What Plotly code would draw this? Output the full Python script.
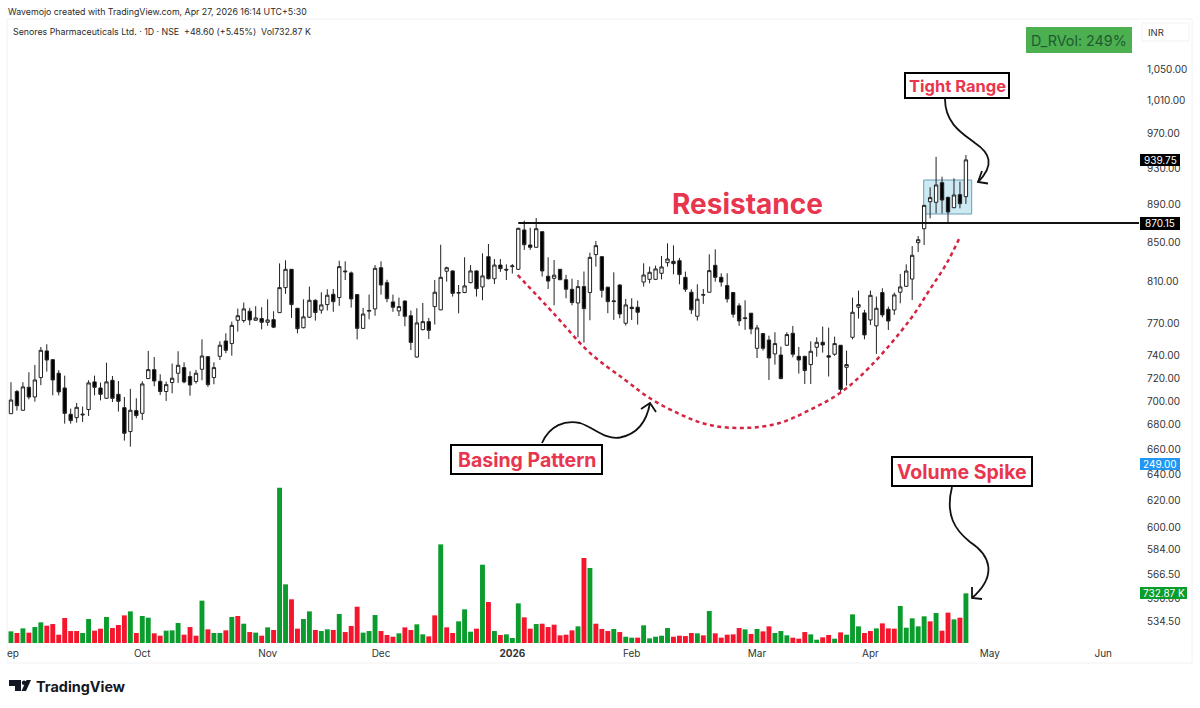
import plotly.graph_objects as go

W, H = 1200, 708

opens = [
    706, 689.3, 708.2, 692.2, 711.9, 703.5, 720.4, 744.2, 736.3, 724.2,
    711.3, 688.8, 686.0, 688.2, 692.8, 716.6, 711.3, 702.4, 718.0, 705.8,
    694.4, 674.4, 691.9, 689.6, 719.5, 727.4, 717.1, 708.2, 716.0, 724.2,
    729.2, 721.3, 716.9, 727.7, 739.0, 720.4, 739.3, 753.3, 750.9, 772.6,
    772.3, 781.2, 772.6, 774.2, 770.7, 773.2, 779.8, 804.0, 822.2, 784.0,
    765.6, 775.5, 791.7, 782.2, 787.5, 797.5, 794.3, 819.6, 818.6, 797.2,
    765.0, 781.2, 783.4, 823.8, 808.9, 790.1, 781.5, 791.0, 776.9, 738.7,
    763.8, 771.3, 785.6, 782.5, 820.3, 820.6, 798.6, 799.2, 808.9, 820.6,
    804.7, 835.0, 812.8, 826.5, 822.2, 824.9, 822.2, 862.7, 847.0, 844.6,
    860.9, 815.3, 813.2, 822.2, 811.8, 802.4, 789.1, 805.0, 799.2, 837.1,
    835.0, 804.4, 790.4, 806.6, 769.8, 785.0, 785.0, 809.5, 812.2, 812.2,
    818.2, 828.9, 830.3, 830.9, 814.2, 799.5, 776.4, 796.6, 799.5, 826.2,
    814.2, 806.0, 799.2, 786.3, 774.2, 779.3, 746.6, 760.1, 754.2, 741.5,
    740.5, 749.4, 760.4, 739.3, 739.3, 731.9, 747.5, 752.1, 739.8, 741.2,
    749.4, 729.5, 756.7, 785.0, 779.6, 772.9, 767.3, 799.2, 783.0, 782.4,
    799.5, 805.3, 812.5, 849.4, 864.0, 893.0, 892.3, 914.0, 897.7, 886.5,
    900.7, 898.5,
]
highs = [
    712, 716.3, 709.6, 716.3, 725.1, 731.6, 747.8, 750.3, 736.6, 726.9,
    722.1, 693.6, 698.4, 695.3, 718.0, 722.1, 716.0, 733.6, 721.8, 717.4,
    703.5, 710.5, 702.4, 717.1, 744.2, 738.7, 723.3, 716.9, 732.8, 743.9,
    733.9, 726.0, 727.2, 754.8, 739.6, 733.9, 753.0, 760.4, 771.3, 783.7,
    789.5, 784.4, 786.0, 785.0, 792.6, 781.2, 828.2, 831.3, 822.2, 784.0,
    792.6, 805.0, 792.6, 799.5, 802.4, 802.7, 830.9, 830.3, 820.0, 797.2,
    784.4, 797.2, 826.5, 830.3, 811.8, 797.2, 794.3, 791.4, 781.9, 784.0,
    789.1, 774.8, 811.5, 847.3, 824.9, 821.0, 806.6, 834.4, 826.5, 821.0,
    838.4, 848.0, 832.6, 832.6, 827.2, 827.5, 865.0, 872.5, 865.0, 875.4,
    860.9, 834.4, 831.6, 822.2, 816.6, 812.8, 811.5, 820.0, 839.1, 851.1,
    835.7, 805.0, 819.2, 807.3, 793.0, 793.6, 791.4, 828.3, 824.9, 825.9,
    835.7, 848.7, 846.6, 833.7, 819.9, 802.4, 807.3, 802.7, 837.4, 842.5,
    818.2, 818.2, 799.5, 788.8, 791.7, 779.3, 768.2, 760.4, 758.2, 761.4,
    748.1, 761.4, 767.3, 747.8, 739.8, 753.0, 756.7, 766.7, 765.7, 757.3,
    749.4, 744.5, 794.3, 801.1, 782.5, 801.1, 795.3, 803.4, 785.6, 799.2,
    817.5, 827.2, 845.9, 856.3, 889.4, 908.8, 943.3, 920.7, 898.5, 918.8,
    915.1, 945.3,
]
lows = [
    694, 689.0, 691.9, 691.9, 701.5, 699.5, 713.7, 725.7, 704.9, 704.9,
    681.0, 681.0, 681.8, 682.4, 687.4, 704.9, 700.6, 702.1, 699.2, 691.1,
    667.0, 662.1, 685.4, 684.0, 719.2, 712.8, 705.2, 700.1, 706.7, 715.7,
    715.4, 704.6, 715.1, 718.0, 712.2, 714.5, 736.0, 742.1, 739.9, 762.0,
    770.4, 768.0, 772.3, 764.1, 767.4, 765.2, 779.5, 797.9, 774.8, 760.4,
    765.0, 774.8, 772.3, 778.8, 781.9, 780.6, 786.3, 811.5, 784.7, 754.8,
    764.4, 773.5, 776.9, 797.2, 789.8, 780.6, 776.6, 767.0, 745.0, 738.1,
    763.2, 755.1, 768.6, 782.2, 809.9, 795.3, 779.2, 798.6, 808.3, 795.3,
    791.7, 812.2, 807.6, 819.6, 811.5, 818.0, 821.5, 841.9, 841.9, 844.2,
    815.0, 802.7, 786.9, 811.5, 793.6, 786.9, 756.7, 751.8, 772.6, 824.9,
    794.3, 779.3, 772.9, 774.5, 767.6, 772.9, 768.5, 805.0, 808.3, 811.5,
    812.2, 824.9, 817.2, 807.3, 799.8, 778.6, 772.3, 788.2, 799.2, 809.9,
    805.0, 789.5, 775.1, 767.3, 763.6, 759.5, 737.8, 744.5, 718.3, 731.9,
    718.9, 748.7, 738.4, 723.9, 714.8, 714.8, 739.0, 742.7, 721.3, 739.8,
    706.9, 713.4, 754.8, 774.2, 754.8, 768.2, 741.5, 775.4, 763.5, 777.7,
    788.8, 805.0, 792.0, 839.8, 847.0, 875.0, 880.4, 880.4, 869.7, 885.8,
    885.8, 890.5,
]
closes = [
    698, 700.9, 696.1, 712.2, 703.5, 718.3, 744.8, 736.0, 718.3, 707.9,
    689.6, 683.5, 694.7, 688.8, 715.7, 711.9, 705.8, 716.6, 702.4, 699.8,
    673.0, 692.2, 687.7, 714.8, 727.4, 717.4, 708.2, 714.2, 719.8, 731.3,
    716.6, 713.9, 724.2, 739.6, 714.2, 729.2, 749.4, 744.8, 767.8, 776.9,
    783.4, 772.9, 774.8, 770.7, 772.9, 766.1, 804.0, 822.2, 787.5, 764.7,
    775.8, 791.7, 779.9, 787.2, 796.6, 790.4, 824.9, 820.3, 793.0, 765.0,
    778.5, 781.9, 823.2, 806.6, 793.3, 785.0, 785.6, 776.3, 752.0, 770.1,
    771.3, 763.2, 799.5, 814.2, 823.8, 798.4, 799.2, 805.7, 820.6, 803.0,
    815.6, 812.8, 826.5, 822.9, 821.5, 825.6, 864.4, 847.3, 844.6, 864.0,
    820.6, 810.5, 816.3, 811.8, 802.4, 789.5, 805.0, 783.7, 834.3, 846.3,
    801.4, 790.4, 791.0, 778.6, 787.2, 783.7, 780.2, 816.5, 819.2, 822.6,
    824.6, 832.6, 827.9, 816.9, 802.4, 782.5, 792.7, 797.2, 820.9, 814.2,
    809.5, 793.0, 778.3, 772.0, 774.8, 764.5, 765.4, 746.6, 737.8, 750.9,
    719.5, 759.2, 741.2, 736.0, 726.6, 743.9, 752.1, 749.7, 738.6, 750.9,
    710.1, 731.9, 780.2, 787.5, 758.9, 796.5, 784.0, 777.7, 771.9, 796.9,
    804.7, 820.5, 836.4, 852.5, 889.0, 897.4, 911.4, 894.8, 881.8, 900.3,
    890.8, 939.75,
]

# volume in thousands of shares
volumes = [
    271, 172, 148, 216, 153, 236, 305, 256, 280, 123,
    369, 177, 177, 148, 354, 182, 212, 384, 221, 266,
    408, 467, 148, 399, 374, 143, 108, 182, 187, 295,
    123, 236, 108, 625, 202, 148, 148, 187, 384, 399,
    285, 162, 153, 108, 231, 192, 2293, 866, 645, 212,
    354, 467, 192, 177, 202, 192, 428, 162, 251, 536,
    153, 177, 413, 177, 118, 93, 143, 231, 192, 276,
    128, 98, 408, 1456, 231, 148, 320, 497, 167, 212,
    1156, 605, 177, 118, 128, 74, 585, 379, 212, 280,
    285, 236, 271, 113, 123, 187, 246, 1255, 1107, 285,
    207, 177, 207, 162, 93, 79, 79, 261, 69, 93,
    108, 221, 93, 108, 103, 148, 143, 113, 472, 143,
    79, 123, 128, 221, 202, 133, 207, 172, 246, 148,
    177, 113, 79, 64, 162, 128, 49, 84, 118, 64,
    157, 123, 423, 246, 148, 177, 216, 290, 216, 212,
    546, 226, 364, 246, 394, 320, 443, 182, 448, 349,
    374, 733,
]
# 1 = day closed up (green volume), 0 = down (red volume)
volume_up = [
    0, 1, 0, 1, 0, 1, 1, 0, 0, 0,
    0, 0, 0, 1, 1, 0, 0, 1, 0, 0,
    0, 1, 0, 1, 1, 0, 0, 1, 1, 1,
    0, 0, 0, 1, 0, 1, 1, 0, 1, 0,
    1, 0, 1, 0, 1, 0, 1, 1, 0, 0,
    1, 1, 0, 1, 1, 0, 1, 0, 0, 0,
    1, 1, 1, 0, 0, 0, 1, 0, 0, 1,
    1, 0, 0, 1, 0, 0, 1, 1, 1, 0,
    1, 0, 1, 0, 1, 1, 1, 0, 0, 1,
    0, 0, 0, 0, 0, 0, 1, 0, 1, 0,
    0, 0, 1, 0, 1, 1, 0, 1, 1, 1,
    1, 1, 0, 0, 0, 0, 1, 0, 1, 0,
    0, 0, 0, 0, 1, 0, 1, 0, 0, 1,
    1, 1, 0, 0, 0, 1, 1, 0, 0, 1,
    0, 1, 1, 1, 0, 0, 1, 0, 0, 0,
    1, 1, 1, 1, 1, 0, 1, 0, 0, 1,
    0, 1,
]

month_bars = [0.8, 23, 44, 63, 85, 105, 126, 145, 165, 184]
month_labels = ["Sep", "Oct", "Nov", "Dec", "<b>2026</b>", "Feb", "Mar", "Apr", "May", "Jun"]

price_ticks = [1050, 1010, 970, 930, 890, 850, 810, 770, 740, 720, 700, 680, 660,
               640, 620, 600, 584, 566.5, 550, 534.5]
price_labels = ["1,050.00", "1,010.00", "970.00", "930.00", "890.00", "850.00", "810.00",
                "770.00", "740.00", "720.00", "700.00", "680.00", "660.00", "640.00",
                "620.00", "600.00", "584.00", "566.50", "550.00", "534.50"]

resistance_bars = [86, 190]
resistance_price = [870.15, 870.15]

basing_bars = [85.9, 92, 98, 103.9, 108, 113, 118, 124, 129.8, 134.8, 139.9, 144.9,
               151.6, 154.9, 157.8, 160]
basing_prices = [816.5, 778.6, 742.4, 718.3, 702.6, 689, 679.9, 677.4, 681.5, 692.4, 706.9,
                 729.8, 772.9, 801.7, 828.5, 855.3]

bar_index = list(range(len(closes)))

RED_TEXT = "#e8364f"
FONT = "Inter"


def fx(px):
    return px / W


def fy(py):
    return 1 - py / H


def pt(px, py):
    return f"{fx(px):.5f},{fy(py):.5f}"


def curve(start, *segments):
    # pixel coordinates to an SVG path in paper units
    d = "M" + pt(*start)
    for a, b, c in segments:
        d += " C" + pt(*a) + " " + pt(*b) + " " + pt(*c)
    return d


def polyline(*points):
    return "M" + " L".join(pt(*p) for p in points)


fig = go.Figure()

fig.add_trace(go.Candlestick(
    x=bar_index, open=opens, high=highs, low=lows, close=closes, whiskerwidth=0,
    increasing=dict(fillcolor="#ffffff", line=dict(color="#222222", width=1)),
    decreasing=dict(fillcolor="#000000", line=dict(color="#222222", width=1)),
))
fig.add_trace(go.Scatter(x=resistance_bars, y=resistance_price, mode="lines",
                         line=dict(color="#111111", width=2), hoverinfo="skip"))
fig.add_trace(go.Scatter(x=basing_bars, y=basing_prices, mode="lines",
                         line=dict(color="#d6233f", width=2.5, dash="4px,3.5px", shape="spline"),
                         hoverinfo="skip"))
fig.add_trace(go.Bar(x=bar_index, y=volumes, yaxis="y2", width=0.82,
                     marker=dict(color=["#0a9c2c" if u else "#f5162e" for u in volume_up],
                                 line=dict(width=0)),
                     hoverinfo="skip"))

shapes = []


def box(x0, y0, x1, y1, fill="#ffffff", line="#000000", lw=2, layer="above"):
    shapes.append(dict(type="rect", xref="paper", yref="paper", x0=fx(x0), x1=fx(x1),
                       y0=fy(y1), y1=fy(y0), fillcolor=fill, layer=layer,
                       line=dict(color=line, width=lw)))


def ink(path):
    shapes.append(dict(type="path", xref="paper", yref="paper", path=path, layer="above",
                       line=dict(color="#111111", width=1.8)))


annotations = []


def label(px, py, text, size, color="#333333", anchor="center", bold=False):
    annotations.append(dict(xref="paper", yref="paper", x=fx(px), y=fy(py), text=f"<b>{text}</b>" if bold else text,
                            showarrow=False, xanchor=anchor, yanchor="middle",
                            font=dict(family=FONT, size=size, color=color)))


# pane frame and the clipped first month label
box(7, 19, 1192, 663, fill="rgba(0,0,0,0)", line="#f2f2f2", lw=1, layer="below")
box(0, 646, 7, 662, line="#ffffff", lw=0)

# tight range zone behind the candles
box(923.7, 180, 971.7, 214, fill="#cdeaf4", line="#6a9fb3", lw=1, layer="below")

# value tags on the price scale
box(1140, 154, 1180, 166, fill="#000000", line="#000000", lw=0)
box(1140, 217, 1180, 230, fill="#000000", line="#000000", lw=0)
box(1140, 458, 1180, 470, fill="#2196f3", line="#2196f3", lw=0)
box(1140, 587, 1187, 599, fill="#0a9c2c", line="#0a9c2c", lw=0)
label(1160, 160, "939.75", 10, "#ffffff")
label(1160, 223.5, "870.15", 10, "#ffffff")
label(1160, 464, "249.00", 10, "#ffffff")
label(1164, 593, "732.87 K", 10, "#ffffff")

# header
label(6, 11.5, "Wavemojo created with TradingView.com, Apr 27, 2026 16:14 UTC+5:30", 8.8, "#2a2a2a", "left")
label(11, 31.5, "Senores Pharmaceuticals Ltd. · 1D · NSE  +48.60 (+5.45%)  Vol732.87 K", 8.8, "#2a2a2a", "left")
box(1026, 27, 1132, 53, fill="#4caf50", line="#4caf50", lw=0)
label(1079, 40, "D_RVol: 249%", 14.3, "#1f5c30")
box(1142, 23, 1189, 41, fill="#ffffff", line="#f2f2f2", lw=1)
label(1156, 32, "INR", 9.5, "#333333")

# callouts
box(905, 73, 1009, 98)
label(957, 86, "Tight Range", 16.5, RED_TEXT, bold=True)
box(451, 445, 602, 474)
label(526.5, 460, "Basing Pattern", 19.5, RED_TEXT, bold=True)
box(892, 457, 1032, 486)
label(962, 472, "Volume Spike", 19.5, RED_TEXT, bold=True)
label(747, 204, "Resistance", 28, RED_TEXT, bold=True)

# hand drawn arrows
ink(curve((945, 99), ((945, 125), (965, 135), (975, 143)), ((990, 153), (995, 165), (978, 182))))
ink(polyline((982, 171), (978, 182), (988, 183.5)))
ink(curve((952, 487), ((945, 515), (955, 530), (970, 542)), ((990, 555), (998, 575), (972, 598))))
ink(polyline((972, 587), (972, 598), (982, 599)))
ink(curve((542, 443), ((550, 425), (565, 420), (580, 423)), ((595, 428), (605, 440), (620, 437.5)),
          ((638, 434), (647, 420), (650, 403))))
ink(polyline((641, 409), (650, 403), (656, 412)))

# footer brand
label(34, 686, "TradingView", 14.4, "#131722", "left", bold=True)
shapes.append(dict(type="path", xref="paper", yref="paper", layer="above", fillcolor="#131722",
                   line=dict(width=0),
                   path=polyline((9, 680), (21, 680), (21, 691), (15, 691), (15, 686), (9, 686)) + " Z"))
shapes.append(dict(type="path", xref="paper", yref="paper", layer="above", fillcolor="#131722",
                   line=dict(width=0),
                   path=polyline((26.5, 680), (31, 680), (26, 691), (21.5, 691)) + " Z"))
shapes.append(dict(type="circle", xref="paper", yref="paper", layer="above", fillcolor="#131722",
                   line=dict(width=0), x0=fx(21.8), x1=fx(26.3), y0=fy(685), y1=fy(680.5)))

fig.update_layout(
    width=W, height=H, margin=dict(l=0, r=0, t=0, b=0, autoexpand=False), autosize=False,
    paper_bgcolor="#ffffff", plot_bgcolor="rgba(0,0,0,0)", showlegend=False, boxgap=0.2,
    shapes=shapes, annotations=annotations, hovermode=False,
    xaxis=dict(domain=[fx(8), fx(1139)], range=[0.5, 190], rangeslider=dict(visible=False),
               tickvals=month_bars, ticktext=month_labels, showgrid=False, zeroline=False,
               showline=False, ticks="", tickfont=dict(family=FONT, size=10, color="#333333")),
    yaxis=dict(domain=[fy(646), fy(20)], type="log", range=[2.7152, 3.0472], side="right",
               anchor="x", tickvals=price_ticks, ticktext=price_labels, showgrid=False,
               zeroline=False, showline=False, ticks="", ticklabelstandoff=7,
               tickfont=dict(family=FONT, size=10, color="#333333")),
    yaxis2=dict(domain=[fy(646), fy(20)], overlaying="y", range=[-44, 9195], visible=False),
)

fig.write_html("out.html", config=dict(displayModeBar=False),
               post_script="document.body.style.margin='0';")
